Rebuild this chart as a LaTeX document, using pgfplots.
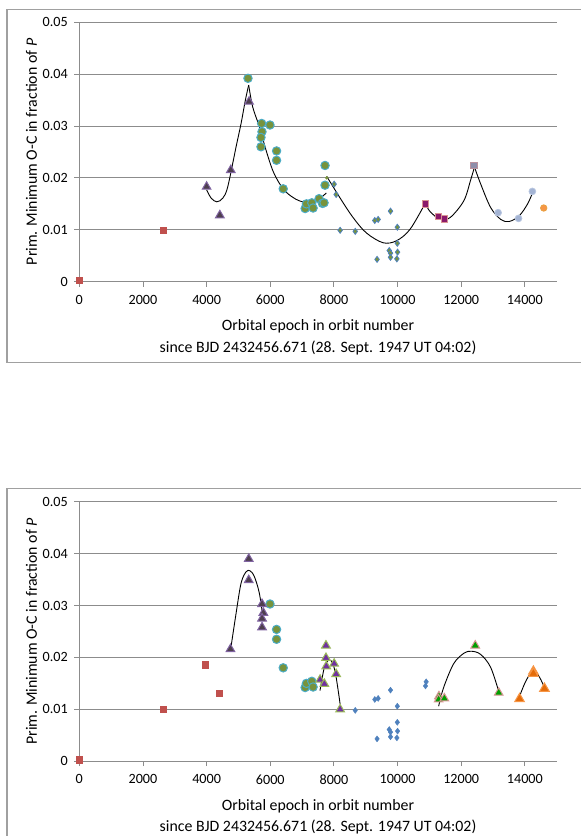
\documentclass[border=0pt]{standalone}
\usepackage{pgfplots}
\pgfplotsset{compat=1.18}
\usepackage{fontspec}
\setmainfont{Carlito}
\definecolor{gridgray}{HTML}{8C8C8C}
\definecolor{framegray}{HTML}{A0A0A0}
\definecolor{redsq}{HTML}{C0504D}
\definecolor{trifill}{HTML}{4E3F4E}
\definecolor{triedge}{HTML}{8064A2}
\definecolor{circfill}{HTML}{77933C}
\definecolor{circedge}{HTML}{4BACC6}
\definecolor{diaedge}{HTML}{4F81BD}
\definecolor{magfill}{HTML}{8B1A6B}
\definecolor{pinkedge}{HTML}{D99594}
\definecolor{grayfill}{HTML}{8E8EAA}
\definecolor{lbfill}{HTML}{A3B3D3}
\definecolor{lbedge}{HTML}{B8C6E0}
\definecolor{orfill}{HTML}{F79646}
\definecolor{oredge}{HTML}{E8A040}
\definecolor{purfill}{HTML}{7030A0}
\definecolor{oliveedge}{HTML}{9BBB59}
\definecolor{grfill}{HTML}{00A000}
\definecolor{ortri}{HTML}{E46C0A}
\pgfplotsset{
  occhart/.style={
    scale only axis, width=477.4bp, height=259.4bp,
    xmin=0, xmax=15000, ymin=0, ymax=0.05,
    scaled ticks=false,
    axis lines*=left,
    axis line style={draw=gridgray, line width=0.9bp},
    ymajorgrids, major grid style={draw=gridgray, line width=0.9bp},
    tick style={draw=gridgray, line width=0.9bp},
    tick align=outside, major tick length=5bp,
    xtick={0,2000,4000,6000,8000,10000,12000,14000},
    ytick={0,0.01,0.02,0.03,0.04,0.05},
    xticklabels={0,2000,4000,6000,8000,10000,12000,14000},
    yticklabels={0,0.01,0.02,0.03,0.04,0.05},
    tick label style={font=\fontsize{14.2}{16}\selectfont},
    xticklabel style={yshift=-5bp},
    yticklabel style={xshift=-3bp},
    label style={font=\fontsize{15.9}{21.5}\selectfont},
    clip=false,
    xlabel={Orbital epoch in orbit number\\since BJD 2432456.671 (28. Sept. 1947 UT 04:02)},
    xlabel style={align=center, at={(axis description cs:0.5,-0.214)}, anchor=center},
    ylabel={Prim. Minimum O-C in fraction of \textit{P}},
    ylabel style={at={(axis description cs:-0.100,0.5)}, anchor=center},
  },
  curve/.style={black, line width=0.9bp, smooth, tension=0.55, no markers},
}
\begin{document}
\begin{tikzpicture}[x=1bp,y=1bp]
\path[use as bounding box] (0,0) rectangle (581,836);
% frames
\draw[framegray, line width=1.2bp] (581,826.7) -- (7,826.7) -- (7,473.3) -- (581,473.3);
\draw[framegray, line width=1.2bp] (581,347.7) -- (7,347.7) -- (7,0);

% ---------------- top panel ----------------
\begin{axis}[occhart, at={(79.3bp,554.3bp)}, anchor=south west]
\addplot[only marks, mark=square*, mark size=3.1bp, mark options={fill=redsq, draw=redsq}]
 coordinates {(0,0.0003) (2640,0.0100)};
\addplot[only marks, mark=triangle*, mark size=5bp, mark options={fill=trifill, draw=triedge, line width=1bp}]
 coordinates {(4000,0.0183) (4416,0.0128) (4760,0.0215) (5334,0.0347)};
\addplot[only marks, mark=*, mark size=4.2bp, mark options={fill=circfill, draw=circedge, line width=1bp}]
 coordinates {(5300,0.0392) (5729,0.0305) (5740,0.0289) (5708,0.0278) (5708,0.0260)
  (5991,0.0302) (6198,0.0252) (6198,0.0234) (6407,0.0179) (7096,0.0141) (7136,0.0150)
  (7305,0.0152) (7346,0.0142) (7534,0.0160) (7638,0.0151) (7690,0.0152) (7721,0.0186) (7721,0.0224)};
\addplot[only marks, mark=*, mark size=1.5bp, mark options={fill=circfill, draw=circfill}]
 coordinates {(7775,0.0200)};
\addplot[only marks, mark=diamond*, mark size=3bp, mark options={fill=circfill, draw=diaedge, line width=0.8bp}]
 coordinates {(8007,0.0188) (8070,0.0168) (8195,0.0099) (8670,0.0097) (9284,0.0118) (9390,0.0120)
  (9778,0.0136) (9991,0.0105) (9991,0.0074) (9738,0.0060) (9778,0.0055) (9778,0.0047)
  (10000,0.0057) (9978,0.0044) (9355,0.0043)};
\addplot[only marks, mark=square*, mark size=3.2bp, mark options={fill=magfill, draw=pinkedge, line width=1bp}]
 coordinates {(10868,0.0150) (11290,0.0126) (11468,0.0121)};
\addplot[only marks, mark=square*, mark size=3.2bp, mark options={fill=grayfill, draw=pinkedge!60!grayfill, line width=1bp}]
 coordinates {(12407,0.0224)};
\addplot[only marks, mark=*, mark size=3.4bp, mark options={fill=lbfill, draw=lbedge, line width=0.8bp}]
 coordinates {(13159,0.0133) (13800,0.0122) (14235,0.0174)};
\addplot[only marks, mark=*, mark size=3.2bp, mark options={fill=orfill, draw=oredge, line width=0.8bp}]
 coordinates {(14592,0.0142)};
% fitted curves
\addplot[curve] coordinates {(4000,0.0177) (4144,0.0161) (4320,0.0154) (4508,0.0161) (4664,0.0183) (4926,0.0260) (5083,0.0305) (5218,0.0350) (5322,0.0379)};
\addplot[curve] coordinates {(5322,0.0379) (5447,0.0337) (5656,0.0299) (5865,0.0254) (6074,0.0215) (6283,0.0190) (6492,0.0173) (6700,0.0163) (6908,0.0156) (7221,0.0152) (7480,0.0157) (7763,0.0171)};
\addplot[curve] coordinates {(7775,0.0203) (8176,0.0163) (8598,0.0124) (9020,0.0094) (9547,0.0075) (9969,0.0079) (10392,0.0101) (10868,0.0151)};
\addplot[curve] coordinates {(10868,0.0151) (11024,0.0135) (11343,0.0120) (11659,0.0124) (12082,0.0156) (12291,0.0195) (12416,0.0221)};
\addplot[curve] coordinates {(12416,0.0221) (12607,0.0189) (12924,0.0143) (13243,0.0120) (13506,0.0116) (13822,0.0127) (14086,0.0150) (14245,0.0172)};
\end{axis}

% ---------------- bottom panel ----------------
\begin{axis}[occhart, at={(79.3bp,74.8bp)}, anchor=south west]
\addplot[only marks, mark=square*, mark size=3.1bp, mark options={fill=redsq, draw=redsq}]
 coordinates {(0,0.0003) (2630,0.0100) (3966,0.0186) (4383,0.0131)};
\addplot[only marks, mark=*, mark size=4.2bp, mark options={fill=circfill, draw=circedge, line width=1bp}]
 coordinates {(5991,0.0303) (6198,0.0254) (6198,0.0235) (6407,0.0180) (7096,0.0142) (7136,0.0150) (7305,0.0154) (7346,0.0143)};
\addplot[only marks, mark=triangle*, mark size=5bp, mark options={fill=trifill, draw=triedge, line width=1bp}]
 coordinates {(4749,0.0216) (5324,0.0390) (5324,0.0349) (5742,0.0303) (5783,0.0286) (5742,0.0275) (5742,0.0258)};
\addplot[only marks, mark=triangle*, mark size=5bp, mark options={fill=purfill, draw=oliveedge, line width=1bp}]
 coordinates {(7750,0.0223) (7750,0.0199) (7760,0.0183) (8007,0.0188) (8070,0.0168) (7565,0.0157) (7700,0.0149) (8195,0.0100)};
\addplot[only marks, mark=diamond*, mark size=3bp, mark options={fill=diaedge, draw=diaedge}]
 coordinates {(8670,0.0098) (9284,0.0119) (9390,0.0121) (9778,0.0137) (9991,0.0106) (9991,0.0075)
  (9738,0.0061) (9778,0.0056) (9778,0.0047) (10000,0.0058) (9978,0.0045) (9355,0.0043)
  (10899,0.0153) (10877,0.0145)};
\addplot[only marks, mark=triangle*, mark size=5bp, mark options={fill=grfill, draw=pinkedge, line width=1bp}]
 coordinates {(11300,0.0125) (11290,0.0119) (11470,0.0121) (12440,0.0223) (13178,0.0132)};
\addplot[only marks, mark=triangle*, mark size=5.6bp, mark options={fill=ortri, draw=orfill, line width=1bp}]
 coordinates {(13832,0.0120) (14267,0.0173) (14267,0.0169) (14615,0.0140)};
% fitted curves
\addplot[curve] coordinates {(4749,0.0213) (4926,0.0285) (5082,0.0343) (5239,0.0365) (5364,0.0367) (5499,0.0356) (5656,0.0324) (5783,0.0272)};
\addplot[curve] coordinates {(7562,0.0136) (7700,0.0181) (7837,0.0195) (7962,0.0189) (8069,0.0162) (8195,0.0110)};
\addplot[curve] coordinates {(11290,0.0106) (11447,0.0142) (11763,0.0188) (12082,0.0208) (12313,0.0212) (12607,0.0206) (12924,0.0181) (13190,0.0132)};
\addplot[curve] coordinates {(13832,0.0125) (14035,0.0155) (14267,0.0175) (14458,0.0162) (14615,0.0142)};
\end{axis}
\end{tikzpicture}
\end{document}
